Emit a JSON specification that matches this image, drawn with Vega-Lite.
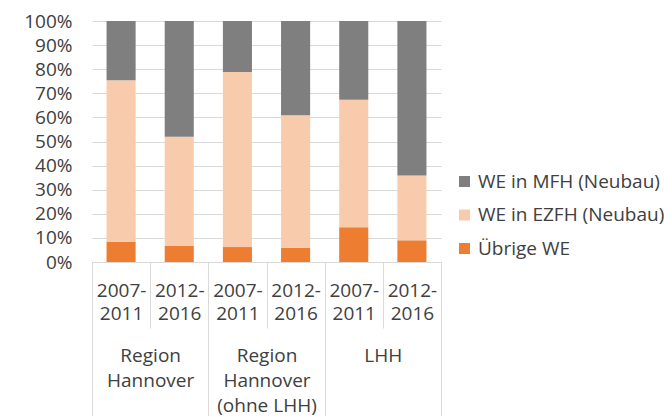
{
  "$schema": "https://vega.github.io/schema/vega-lite/v6.json",
  "autosize": {"type": "none"},
  "width": 349,
  "height": 241,
  "padding": {"left": 92, "top": 21, "right": 223, "bottom": 154},
  "background": "white",
  "data": {
    "values": [
      {"region": "Region Hannover", "period": "2007-2011", "series": "Übrige WE", "value": 8.4},
      {"region": "Region Hannover", "period": "2007-2011", "series": "WE in EZFH (Neubau)", "value": 67.0},
      {"region": "Region Hannover", "period": "2007-2011", "series": "WE in MFH (Neubau)", "value": 24.6},
      {"region": "Region Hannover", "period": "2012-2016", "series": "Übrige WE", "value": 6.8},
      {"region": "Region Hannover", "period": "2012-2016", "series": "WE in EZFH (Neubau)", "value": 45.2},
      {"region": "Region Hannover", "period": "2012-2016", "series": "WE in MFH (Neubau)", "value": 48.0},
      {"region": "Region Hannover (ohne LHH)", "period": "2007-2011", "series": "Übrige WE", "value": 6.2},
      {"region": "Region Hannover (ohne LHH)", "period": "2007-2011", "series": "WE in EZFH (Neubau)", "value": 72.6},
      {"region": "Region Hannover (ohne LHH)", "period": "2007-2011", "series": "WE in MFH (Neubau)", "value": 21.2},
      {"region": "Region Hannover (ohne LHH)", "period": "2012-2016", "series": "Übrige WE", "value": 5.9},
      {"region": "Region Hannover (ohne LHH)", "period": "2012-2016", "series": "WE in EZFH (Neubau)", "value": 55.0},
      {"region": "Region Hannover (ohne LHH)", "period": "2012-2016", "series": "WE in MFH (Neubau)", "value": 39.1},
      {"region": "LHH", "period": "2007-2011", "series": "Übrige WE", "value": 14.4},
      {"region": "LHH", "period": "2007-2011", "series": "WE in EZFH (Neubau)", "value": 52.9},
      {"region": "LHH", "period": "2007-2011", "series": "WE in MFH (Neubau)", "value": 32.7},
      {"region": "LHH", "period": "2012-2016", "series": "Übrige WE", "value": 9.0},
      {"region": "LHH", "period": "2012-2016", "series": "WE in EZFH (Neubau)", "value": 26.9},
      {"region": "LHH", "period": "2012-2016", "series": "WE in MFH (Neubau)", "value": 64.1}
    ]
  },
  "transform": [
    {"calculate": "datum.region + '|' + datum.period", "as": "key"},
    {"calculate": "datum.series == 'Übrige WE' ? 0 : datum.series == 'WE in EZFH (Neubau)' ? 1 : 2", "as": "ord"}
  ],
  "layer": [
    {
      "mark": {"type": "bar", "width": {"band": 0.5}},
      "encoding": {
        "x": {
          "field": "key",
          "type": "nominal",
          "sort": null,
          "scale": {"paddingInner": 0, "paddingOuter": 0},
          "axis": {
            "title": null,
            "orient": "bottom",
            "labelAngle": 0,
            "labelExpr": "isString(datum.value) ? [slice(split(datum.value,'|')[1],0,5), slice(split(datum.value,'|')[1],5)] : ''",
            "tickBand": "extent",
            "tickSize": 66,
            "tickColor": "#d9d9d9",
            "domainColor": "#d9d9d9",
            "labelPadding": -47,
            "labelLineHeight": 23
          }
        },
        "y": {
          "field": "value",
          "type": "quantitative",
          "stack": "normalize",
          "axis": {
            "title": null,
            "format": ".0%",
            "values": [0, 0.1, 0.2, 0.3, 0.4, 0.5, 0.6, 0.7, 0.8, 0.9, 1],
            "ticks": false,
            "domain": false,
            "labelPadding": 20,
            "gridColor": "#d9d9d9"
          }
        },
        "color": {
          "field": "series",
          "type": "nominal",
          "scale": {
            "domain": ["WE in MFH (Neubau)", "WE in EZFH (Neubau)", "Übrige WE"],
            "range": ["#7f7f7f", "#f8cbad", "#ed7d31"]
          },
          "legend": {
            "title": null,
            "orient": "none",
            "legendX": 363,
            "legendY": 151,
            "symbolType": "square",
            "symbolSize": 121,
            "labelFontSize": 19,
            "labelOffset": 4,
            "rowPadding": 13.5,
            "labelLimit": 300
          }
        },
        "order": {"field": "ord", "type": "quantitative", "sort": "ascending"}
      }
    },
    {
      "mark": {"type": "bar", "opacity": 0},
      "encoding": {
        "x": {
          "field": "region",
          "type": "nominal",
          "sort": ["Region Hannover", "Region Hannover (ohne LHH)", "LHH"],
          "scale": {"paddingInner": 0, "paddingOuter": 0},
          "axis": {
            "title": null,
            "orient": "bottom",
            "labelAngle": 0,
            "domain": false,
            "labelExpr": "!isString(datum.value) ? '' : datum.value == 'LHH' ? 'LHH' : datum.value == 'Region Hannover' ? ['Region','Hannover'] : ['Region','Hannover','(ohne LHH)']",
            "tickBand": "extent",
            "tickSize": 160,
            "tickColor": "#d9d9d9",
            "labelPadding": -76,
            "labelLineHeight": 25
          }
        }
      }
    }
  ],
  "resolve": {"scale": {"x": "independent"}, "axis": {"x": "independent"}},
  "config": {
    "font": "Open Sans",
    "view": {"stroke": null},
    "axis": {"labelFont": "Open Sans", "labelFontSize": 19, "labelColor": "#404040", "grid": true},
    "axisX": {"grid": false},
    "legend": {"labelFont": "Open Sans", "labelColor": "#404040"}
  }
}
